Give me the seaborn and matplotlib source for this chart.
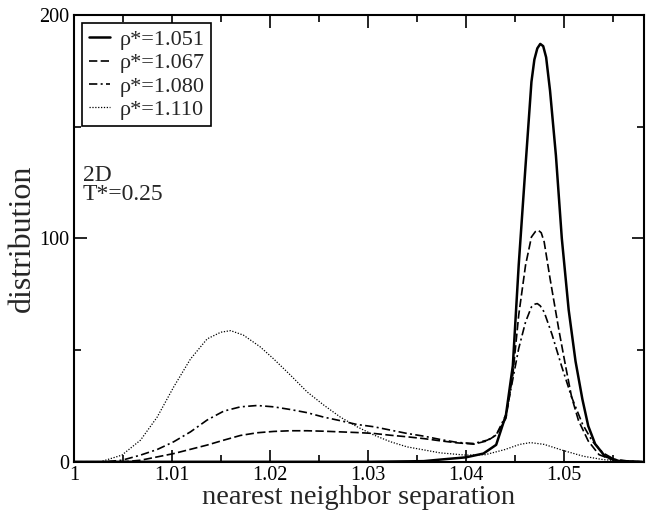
import matplotlib
matplotlib.use("Agg")
import matplotlib.pyplot as plt
from matplotlib.ticker import MultipleLocator, FuncFormatter
import seaborn as sns
import pandas as pd

labels = ["ρ*=1.051", "ρ*=1.067", "ρ*=1.080", "ρ*=1.110"]

x_1051 = [1.000, 1.030, 1.0357, 1.0374, 1.040, 1.0418, 1.0431, 1.0441, 1.0448, 1.0454,
          1.0461, 1.0467, 1.0470, 1.0473, 1.0476, 1.0479, 1.0482, 1.0486, 1.0492, 1.0498,
          1.0505, 1.0512, 1.0519, 1.0525, 1.0532, 1.0542, 1.0556, 1.058]
y_1051 = [0, 0, 0.3, 1, 2, 3.7, 7.6, 21, 43, 88,
          132.6, 170, 180, 185, 187, 186, 181, 166, 137, 100,
          68, 45, 28, 16, 8, 2.5, 0.4, 0]

x_1067 = [1.000, 1.005, 1.0068, 1.0102, 1.0136, 1.0153, 1.017, 1.0187, 1.0204, 1.0221,
          1.0238, 1.0255, 1.0272, 1.0289, 1.0306, 1.0323, 1.034, 1.0357, 1.0374, 1.0391,
          1.0408, 1.0422, 1.0431, 1.0441, 1.0448, 1.0454, 1.0461, 1.0467, 1.0471, 1.0474,
          1.0477, 1.048, 1.0486, 1.0495, 1.0502, 1.0508, 1.0515, 1.0525, 1.0536, 1.0549,
          1.0566, 1.058]
y_1067 = [0, 0, 0.7, 3.7, 7.5, 9.7, 11.8, 13, 13.6, 13.9,
          13.9, 13.7, 13.4, 13.1, 12.7, 11.9, 11.2, 10.4, 9.4, 8.5,
          7.9, 9.4, 12, 19.5, 39, 65.6, 88, 100.6, 103, 103.6,
          102.5, 98.4, 82, 59, 42.5, 29, 18.5, 9.3, 3.2, 1,
          0.2, 0]

x_1080 = [1.000, 1.003, 1.0049, 1.0068, 1.0085, 1.0102, 1.0119, 1.0136, 1.0153, 1.017,
          1.0187, 1.0204, 1.0221, 1.0238, 1.0255, 1.0272, 1.0289, 1.0306, 1.0323, 1.034,
          1.0357, 1.0374, 1.0391, 1.0408, 1.0422, 1.0431, 1.0441, 1.0448, 1.0454, 1.0461,
          1.0467, 1.0470, 1.0473, 1.0476, 1.048, 1.0488, 1.0498, 1.0508, 1.0519, 1.0529,
          1.054, 1.0552, 1.0569, 1.058]
y_1080 = [0, 0, 0.7, 3, 5.5, 9, 13.4, 18.7, 22.7, 24.6,
          25.2, 24.6, 23.4, 22, 20, 18.4, 16.7, 15.7, 14.2, 12.7,
          11.5, 10, 8.7, 8.2, 9.7, 12, 21, 37, 50.7, 62.6,
          69.3, 70.5, 70.8, 69.8, 67, 57, 42.5, 29, 17, 9.3,
          4, 1, 0.2, 0]

x_1110 = [1.000, 1.0027, 1.0049, 1.0068, 1.0085, 1.0102, 1.0119, 1.0136, 1.015, 1.016,
          1.0173, 1.019, 1.0204, 1.0221, 1.0238, 1.0255, 1.0272, 1.0289, 1.0306, 1.0323,
          1.034, 1.0374, 1.040, 1.042, 1.044, 1.0455, 1.0466, 1.048, 1.050, 1.052,
          1.054, 1.056, 1.058]
y_1110 = [0, 0, 3, 9.7, 20, 33.6, 46, 55, 58, 58.7,
          56.7, 51.5, 46, 38.8, 31.3, 25.4, 20, 15.7, 12, 9,
          6.7, 4, 3, 3.2, 5.5, 7.8, 8.6, 7.8, 5, 2.5,
          1.0, 0.3, 0]

series = [(x_1051, y_1051), (x_1067, y_1067), (x_1080, y_1080), (x_1110, y_1110)]
styles = ["-", (0, (5, 2)), (0, (5, 2, 1.2, 2)), (0, (1, 1.3))]
widths = [1.8, 1.2, 1.2, 0.9]

sns.set_style("ticks")
plt.rcParams["font.family"] = ["Liberation Serif", "DejaVu Serif"]

fig = plt.figure(figsize=(6.48, 5.12), dpi=100)
ax = fig.add_axes([0.114, 0.098, 0.880, 0.873])

for (xs, ys), lab, ls, lw in zip(series, labels, styles, widths):
    df = pd.DataFrame({"x": xs, "y": ys})
    sns.lineplot(data=df, x="x", y="y", ax=ax, color="black", linestyle=ls,
                 linewidth=lw, label=lab, estimator=None, sort=False)

ax.set_xlim(1.0, 1.0582)
ax.set_ylim(0, 200)
ax.xaxis.set_major_locator(MultipleLocator(0.01))
ax.xaxis.set_minor_locator(MultipleLocator(0.005))
ax.yaxis.set_major_locator(MultipleLocator(100))
ax.yaxis.set_minor_locator(MultipleLocator(50))
ax.xaxis.set_major_formatter(FuncFormatter(lambda v, p: f"{v:.2f}".rstrip("0").rstrip(".")))
ax.tick_params(which="both", direction="in", top=True, right=True, colors="black",
               labelsize=14.5, width=1.2)
ax.tick_params(which="major", length=9)
ax.tick_params(which="minor", length=5)
ax.tick_params(axis="x", pad=3)
ax.tick_params(axis="y", pad=3)
for s in ax.spines.values():
    s.set_linewidth(1.5)
    s.set_color("black")

ax.set_xlabel("nearest neighbor separation", fontsize=20.5, labelpad=0)
ax.set_ylabel("distribution", fontsize=23, labelpad=2)

leg = ax.legend(loc="upper left", bbox_to_anchor=(0.014, 0.982), borderaxespad=0,
                fontsize=16, frameon=True, fancybox=False, handlelength=0.95,
                handletextpad=0.45, labelspacing=0.12, borderpad=0.3)
leg.get_frame().set_edgecolor("black")
leg.get_frame().set_linewidth(1.2)
leg.get_frame().set_alpha(1)

ax.text(0.016, 0.664, "2D\nT*=0.25", transform=ax.transAxes, fontsize=17,
        va="top", ha="left", linespacing=0.9)

fig.savefig("out.png", dpi=100)
